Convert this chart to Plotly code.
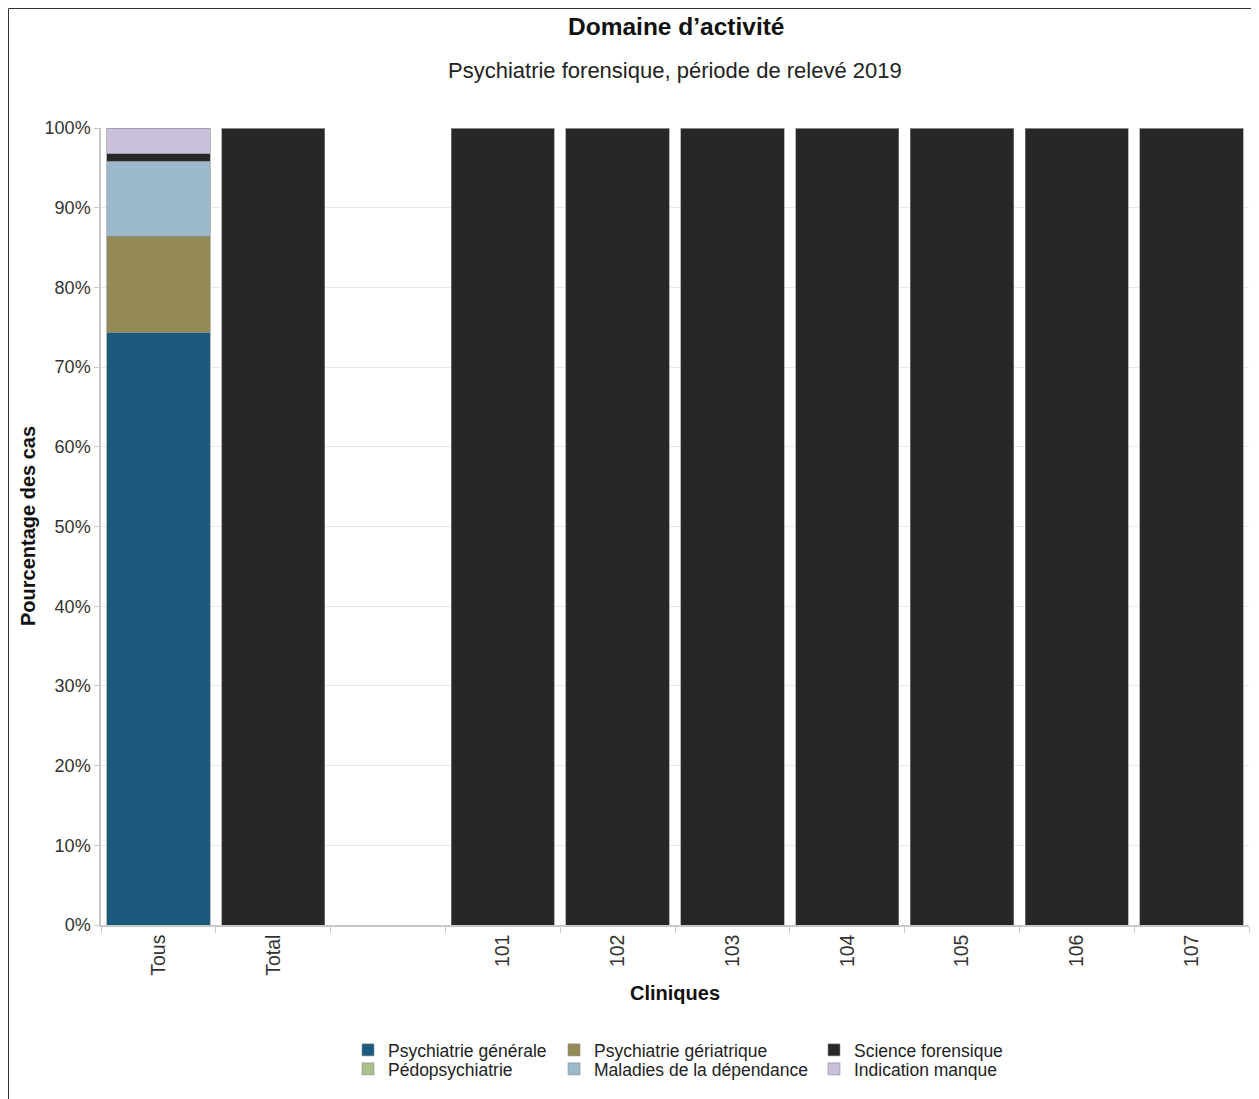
import plotly.graph_objects as go

# ---- data ----
categories = ["Tous", "Total", " ", "101", "102", "103", "104", "105", "106", "107"]
psy_generale = [74.3, 0, 0, 0, 0, 0, 0, 0, 0, 0]
pedopsy = [0.1, 0, 0, 0, 0, 0, 0, 0, 0, 0]
psy_geriatrique = [12.0, 0, 0, 0, 0, 0, 0, 0, 0, 0]
dependance = [9.4, 0, 0, 0, 0, 0, 0, 0, 0, 0]
forensique = [1.0, 100, 0, 100, 100, 100, 100, 100, 100, 100]
indication_manque = [3.2, 0, 0, 0, 0, 0, 0, 0, 0, 0]
y_ticks = [0, 10, 20, 30, 40, 50, 60, 70, 80, 90, 100]
y_tick_labels = ["0%", "10%", "20%", "30%", "40%", "50%", "60%", "70%", "80%", "90%", "100%"]

series = [
    ("Psychiatrie générale", psy_generale, "#1b5a7c", "legend"),
    ("Pédopsychiatrie", pedopsy, "#a9c18d", "legend2"),
    ("Psychiatrie gériatrique", psy_geriatrique, "#938a55", "legend3"),
    ("Maladies de la dépendance", dependance, "#9bb9cb", "legend4"),
    ("Science forensique", forensique, "#272727", "legend5"),
    ("Indication manque", indication_manque, "#cbc0dc", "legend6"),
]

FONT = "Liberation Sans, Arial, sans-serif"

# page offset (body margin) between screenshot and figure coordinates
OFF = 8
W, H = 1259 - OFF, 1099 - OFF
# plot area in screenshot coords: x 101..1249, y 128..925
L = 101 - OFF
R = W - (1249 - OFF)
T = 128 - OFF
B = H - (925 - OFF)
PW, PH = W - L - R, H - T - B


def px(xs):
    return (xs - OFF - L) / PW


def py(ys):
    return (H - B - (ys - OFF)) / PH


fig = go.Figure()
for name, vals, color, lg in series:
    fig.add_trace(go.Bar(
        x=categories, y=vals, name=name, legend=lg,
        marker=dict(color=color, line=dict(color="#8a8a8a", width=0.6)),
    ))

legend_pos = {
    "legend": (370, 1050), "legend2": (370, 1069),
    "legend3": (576, 1050), "legend4": (576, 1069),
    "legend5": (836, 1050), "legend6": (836, 1069),
}
legend_layout = {}
for k, (cx, cy) in legend_pos.items():
    legend_layout[k] = dict(
        x=px(cx - 22), y=py(cy), xanchor="left", yanchor="middle",
        font=dict(family=FONT, size=17.5, color="#222222"),
        bgcolor="rgba(0,0,0,0)", borderwidth=0,
    )

fig.update_layout(
    width=W, height=H,
    margin=dict(l=L, r=R, t=T, b=B, pad=0),
    paper_bgcolor="white", plot_bgcolor="white",
    barmode="stack", bargap=0.1,
    font=dict(family=FONT, size=18, color="#333333"),
    showlegend=True,
    **legend_layout,
    xaxis=dict(
        type="category", categoryorder="array", categoryarray=categories,
        tickangle=-90, tickfont=dict(family=FONT, size=19.5, color="#333333"),
        showline=True, linecolor="#c8c8c8", linewidth=1.5,
        ticks="outside", tickson="boundaries", ticklen=6, tickcolor="#c8c8c8",
        showgrid=False, zeroline=False,
    ),
    yaxis=dict(
        range=[0, 100], tickmode="array", tickvals=y_ticks, ticktext=y_tick_labels,
        tickfont=dict(family=FONT, size=18, color="#333333"),
        showline=True, linecolor="#c8c8c8", linewidth=1.5,
        ticks="outside", ticklen=5, tickcolor="#c8c8c8",
        showgrid=True, gridcolor="#e9e9e9", gridwidth=1, zeroline=False,
    ),
    annotations=[
        dict(text="<b>Domaine d’activité</b>", x=px(675.5), y=py(27), xref="paper", yref="paper",
             showarrow=False, xanchor="center", yanchor="middle",
             font=dict(family=FONT, size=24.5, color="#111111")),
        dict(text="Psychiatrie forensique, période de relevé 2019", x=px(675), y=py(71),
             xref="paper", yref="paper", showarrow=False, xanchor="center", yanchor="middle",
             font=dict(family=FONT, size=22, color="#222222")),
        dict(text="<b>Pourcentage des cas</b>", x=px(28), y=py(526), xref="paper", yref="paper",
             showarrow=False, textangle=-90, xanchor="center", yanchor="middle",
             font=dict(family=FONT, size=20, color="#111111")),
        dict(text="<b>Cliniques</b>", x=px(675), y=py(993), xref="paper", yref="paper",
             showarrow=False, xanchor="center", yanchor="middle",
             font=dict(family=FONT, size=20, color="#111111")),
    ],
    shapes=[
        dict(type="rect", xref="paper", yref="paper",
             x0=px(8.5), x1=px(1290), y0=py(1130), y1=py(8.5),
             line=dict(color="#333333", width=1), fillcolor="rgba(0,0,0,0)", layer="below"),
    ],
)

fig.write_html("out.html")
